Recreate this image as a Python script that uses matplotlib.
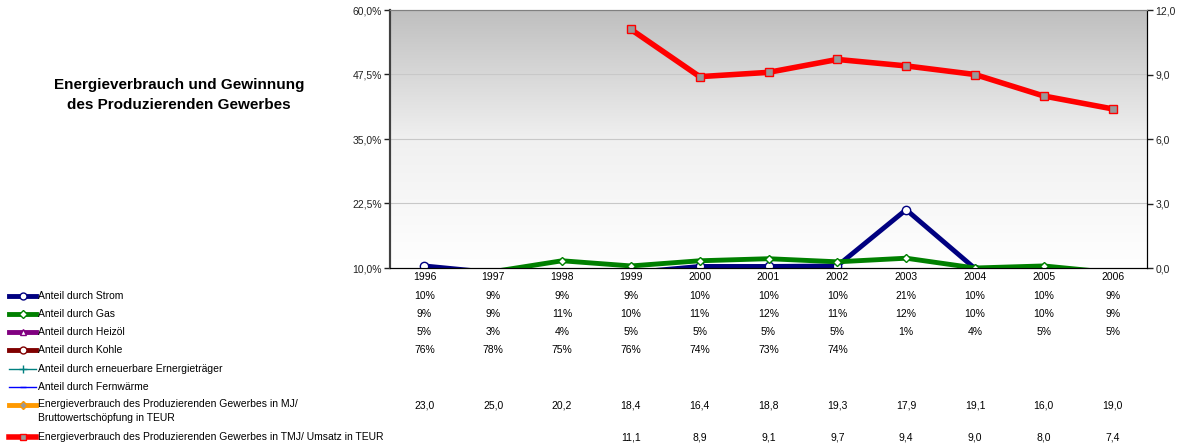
import numpy as np
import matplotlib
matplotlib.use('Agg')
import matplotlib.pyplot as plt
import matplotlib.transforms as mtransforms
from matplotlib.lines import Line2D

plt.rcParams['font.family'] = ['Liberation Sans', 'DejaVu Sans']

# Daten
jahre = ['1996', '1997', '1998', '1999', '2000', '2001', '2002', '2003', '2004', '2005', '2006']
strom = [10.4, 9.1, 9.1, 9.1, 10.3, 10.3, 10.4, 21.3, 9.9, 9.6, 9.1]
gas = [9.1, 9.3, 11.4, 10.4, 11.4, 11.8, 11.2, 11.9, 10.0, 10.4, 9.1]
heizoel = [5, 3, 4, 5, 5, 5, 5, 1, 4, 5, 5]
kohle = [76, 78, 75, 76, 74, 73, 74, None, None, None, None]
mj_wertschoepfung = [23.0, 25.0, 20.2, 18.4, 16.4, 18.8, 19.3, 17.9, 19.1, 16.0, 19.0]
tmj_umsatz = [None, None, None, 11.1, 8.9, 9.1, 9.7, 9.4, 9.0, 8.0, 7.4]

x = np.arange(len(jahre))

def arr(v):
    return np.array([np.nan if a is None else a for a in v], dtype=float)

fig = plt.figure(figsize=(11.77, 4.48), dpi=100)
ax = fig.add_axes([390/1177, 1-268/448, (1147-390)/1177, 258/448])
ax2 = ax.twinx()

# Hintergrund mit Verlauf
grad = np.linspace(0, 1, 256).reshape(-1, 1)
cmap = matplotlib.colors.LinearSegmentedColormap.from_list('g', ['#ffffff', '#f0f0f0', '#bfbfbf'])
ax.imshow(grad, extent=(-0.5, 10.5, 10, 60), aspect='auto', cmap=cmap, origin='lower', zorder=0)
for g in [22.5, 35, 47.5]:
    ax.axhline(g, color='#c8c8c8', lw=0.8, zorder=1)

ax.plot(x, arr(heizoel), color='#800080', lw=3.5, marker='^', mfc='white', mec='#800080', ms=5, zorder=3)
ax.plot(x, arr(kohle), color='#800000', lw=3.5, marker='o', mfc='white', mec='#800000', ms=5, zorder=3)
ax.plot(x, arr(strom), color='#000080', lw=3.5, marker='o', mfc='white', mec='#000080', ms=6, zorder=4)
ax.plot(x, arr(gas), color='#008000', lw=3.5, marker='D', mfc='white', mec='#008000', ms=4.5, zorder=5)

ax2.plot(x, arr(mj_wertschoepfung), color='#ff9900', lw=3.5, marker='D', mfc='#999999', ms=4)
ax2.plot(x, arr(tmj_umsatz), color='#ff0000', lw=4, marker='s', mfc='#999999', mec='#ff0000', ms=5.5)

ax.set_xlim(-0.5, 10.5)
ax.set_ylim(10, 60)
ax2.set_ylim(0, 12)
ax.set_yticks([10, 22.5, 35, 47.5, 60])
ax.set_yticklabels(['10,0%', '22,5%', '35,0%', '47,5%', '60,0%'])
ax2.set_yticks([0, 3, 6, 9, 12])
ax2.set_yticklabels(['0,0', '3,0', '6,0', '9,0', '12,0'])
ax.set_xticks(x)
ax.set_xticklabels(jahre)
ax.tick_params(axis='x', length=0, pad=3, labelsize=7.5)
ax.tick_params(axis='y', length=4, width=1, labelsize=7.5, colors='#222222', direction='out', pad=2)
ax2.tick_params(axis='y', length=4, width=1, labelsize=7.5, colors='#222222', direction='out', pad=2)

for a in (ax, ax2):
    a.spines['top'].set_color('#808080')
    a.spines['left'].set_color('#404040')
    a.spines['left'].set_linewidth(1.5)
    a.spines['right'].set_color('#000000')
    a.spines['bottom'].set_color('#000000')

fig.text(179/1177, 1-95/448, 'Energieverbrauch und Gewinnung\ndes Produzierenden Gewerbes',
         ha='center', va='center', fontsize=11, fontweight='bold', linespacing=1.55)

# Legende mit Datentabelle
zeilen = [
    ('Anteil durch Strom', dict(color='#000080', lw=3.5, marker='o', mfc='white', mec='#000080', ms=5), strom, 'pct', 296),
    ('Anteil durch Gas', dict(color='#008000', lw=3.5, marker='D', mfc='white', mec='#008000', ms=4), gas, 'pct', 314),
    ('Anteil durch Heizöl', dict(color='#800080', lw=3.5, marker='^', mfc='white', mec='#800080', ms=5), heizoel, 'pct', 332),
    ('Anteil durch Kohle', dict(color='#800000', lw=3.5, marker='o', mfc='white', mec='#800000', ms=5), kohle, 'pct', 350),
    ('Anteil durch erneuerbare Ernergieträger', dict(color='#008080', lw=1, marker='+', ms=6), None, 'pct', 369),
    ('Anteil durch Fernwärme', dict(color='#0000ff', lw=1, marker='_', ms=5), None, 'pct', 387),
    ('Energieverbrauch des Produzierenden Gewerbes in MJ/\nBruttowertschöpfung in TEUR', dict(color='#ff9900', lw=3.5, marker='D', mfc='#999999', mec='#ff9900', ms=4), mj_wertschoepfung, 'num', 405),
    ('Energieverbrauch des Produzierenden Gewerbes in TMJ/ Umsatz in TEUR', dict(color='#ff0000', lw=4, marker='s', mfc='#999999', mec='#ff0000', ms=5), tmj_umsatz, 'num', 437),
]

trans = mtransforms.blended_transform_factory(ax.transData, fig.transFigure)
for label, style, werte, fmt, ypx in zeilen:
    yf = 1 - ypx/448
    fig.add_artist(Line2D([9/1177, 22.5/1177, 36/1177], [yf, yf, yf], transform=fig.transFigure, markevery=[1], **style))
    va = 'top' if '\n' in label else 'center'
    fig.text(38/1177, yf + (6/448 if va == 'top' else 0), label, ha='left', va=va, fontsize=7.5, linespacing=1.45)
    if werte is None:
        continue
    for i, w in enumerate(werte):
        if w is None:
            continue
        s = f'{w:.0f}%' if fmt == 'pct' else f'{w:.1f}'.replace('.', ',')
        ax.text(i, yf, s, transform=trans, ha='center', va='center', fontsize=7.5, clip_on=False)

fig.savefig('out.png', dpi=100)
